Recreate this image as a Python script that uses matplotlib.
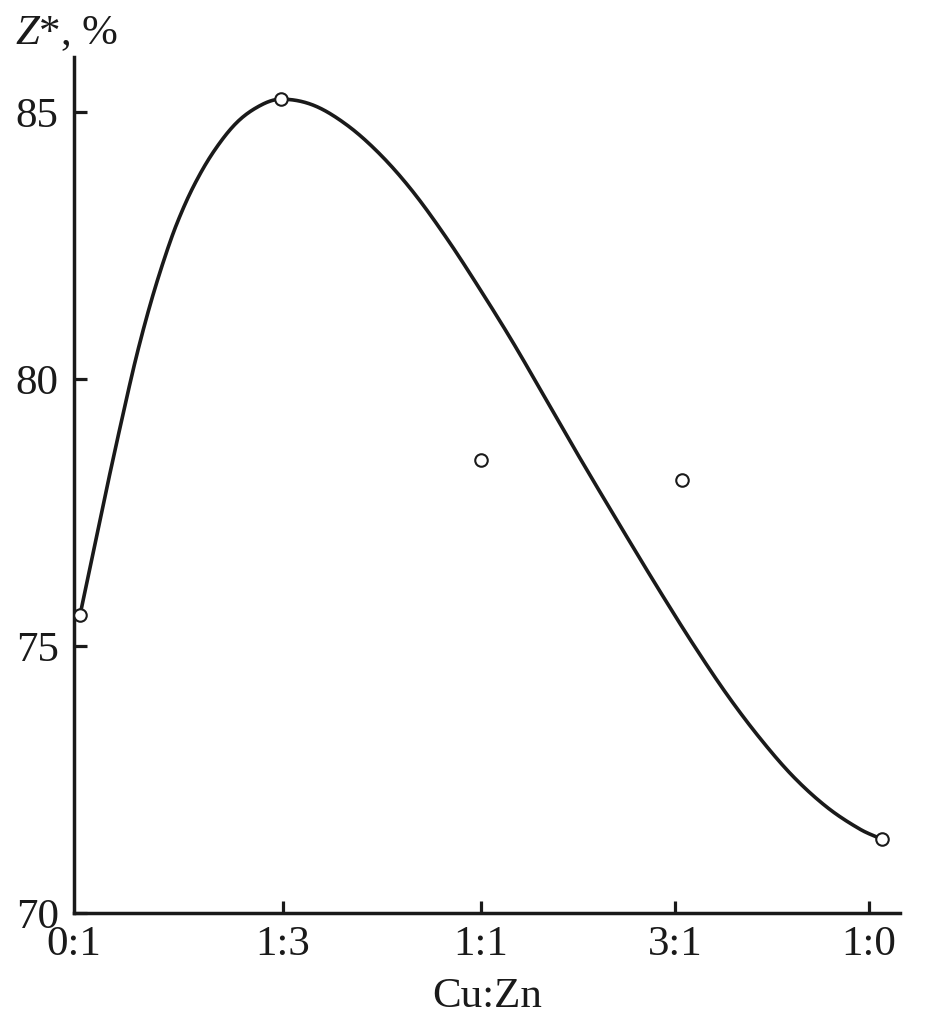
import numpy as np
import matplotlib
matplotlib.use("Agg")
import matplotlib.pyplot as plt

plt.rcParams['font.family'] = ['Liberation Serif', 'DejaVu Serif']
plt.rcParams['mathtext.fontset'] = 'custom'
plt.rcParams['mathtext.rm'] = 'Liberation Serif'
plt.rcParams['mathtext.it'] = 'Liberation Serif:italic'

# ---- data ----
categories = ["0:1", "1:3", "1:1", "3:1", "1:0"]
point_x = [0, 1, 2, 3, 4]
point_z = [75.58, 85.24, 78.48, 78.11, 71.39]

# fitted curve
curve_x = [0.0, 0.133, 0.224, 0.283, 0.349, 0.416, 0.482, 0.565, 0.665, 0.781,
           0.898, 1.0, 1.162, 1.33, 1.496, 1.66, 1.83, 1.995, 2.16, 2.33,
           2.49, 2.728, 2.893, 3.057, 3.227, 3.392, 3.556,
           3.726, 3.89, 4.0]
curve_z = [75.58, 77.95, 79.50, 80.45, 81.38, 82.20, 82.90, 83.60, 84.25, 84.80,
           85.12, 85.24, 85.13, 84.76, 84.21, 83.51, 82.63, 81.68, 80.68, 79.58,
           78.54, 77.04, 76.02, 75.04, 74.09, 73.27, 72.56,
           71.98, 71.57, 71.38]

y_ticks = [70, 75, 80, 85]
x_tick_pos = [-0.03, 1.012, 2.0, 2.967, 3.935]


def smooth_path(xs, ys, n=24):
    """Draw-time cubic Hermite (Catmull-Rom) rendering through the read points."""
    xs = np.asarray(xs, float)
    ys = np.asarray(ys, float)
    m = np.empty_like(ys)
    m[1:-1] = (ys[2:] - ys[:-2]) / (xs[2:] - xs[:-2])
    m[0] = (ys[1] - ys[0]) / (xs[1] - xs[0])
    m[-1] = (ys[-1] - ys[-2]) / (xs[-1] - xs[-2])
    out_x, out_y = [], []
    t = np.linspace(0, 1, n, endpoint=False)
    for i in range(len(xs) - 1):
        h = xs[i + 1] - xs[i]
        h00 = 2 * t**3 - 3 * t**2 + 1
        h10 = t**3 - 2 * t**2 + t
        h01 = -2 * t**3 + 3 * t**2
        h11 = t**3 - t**2
        out_x.append(xs[i] + t * h)
        out_y.append(h00 * ys[i] + h10 * h * m[i] + h01 * ys[i + 1] + h11 * h * m[i + 1])
    out_x.append([xs[-1]])
    out_y.append([ys[-1]])
    return np.concatenate(out_x), np.concatenate(out_y)


# ---- figure ----
fig = plt.figure(figsize=(9.47, 10.17), dpi=100)
ax = fig.add_axes([74/947, 104/1017, 826/947, 856/1017])

sx, sy = smooth_path(curve_x, curve_z)
ax.plot(sx, sy, color='#1a1a1a', lw=2.6, solid_capstyle='round',
        solid_joinstyle='round', zorder=2, clip_on=False)
ax.plot(point_x, point_z, linestyle='none', marker='o', markersize=9,
        markerfacecolor='white', markeredgecolor='#1a1a1a', markeredgewidth=1.5,
        zorder=3, clip_on=False)

ax.set_xlim(-0.0299, 4.0898)
ax.set_ylim(70, 86.03)

for s in ['top', 'right']:
    ax.spines[s].set_visible(False)
for s in ['left', 'bottom']:
    ax.spines[s].set_linewidth(2.5)
    ax.spines[s].set_color('#1a1a1a')

ax.set_yticks(y_ticks)
ax.set_yticklabels([str(v) for v in y_ticks])
ax.set_xticks(x_tick_pos)
ax.set_xticklabels(categories)
ax.tick_params(axis='both', direction='in', length=9, width=2.3,
               color='#1a1a1a', labelsize=31, labelcolor='#1a1a1a')
ax.tick_params(axis='y', pad=11)
ax.tick_params(axis='x', pad=9)
# the origin tick mark coincides with the y spine; only its label shows
ax.xaxis.get_major_ticks()[0].tick1line.set_visible(False)

ax.set_xlabel("Cu:Zn", fontsize=31, color='#1a1a1a', labelpad=10)

fig.text(15/947, 1 - 44/1017, r"$Z$*, %", fontsize=31, color='#1a1a1a',
         ha='left', va='baseline')

fig.savefig("out.png", dpi=100, facecolor='white')
